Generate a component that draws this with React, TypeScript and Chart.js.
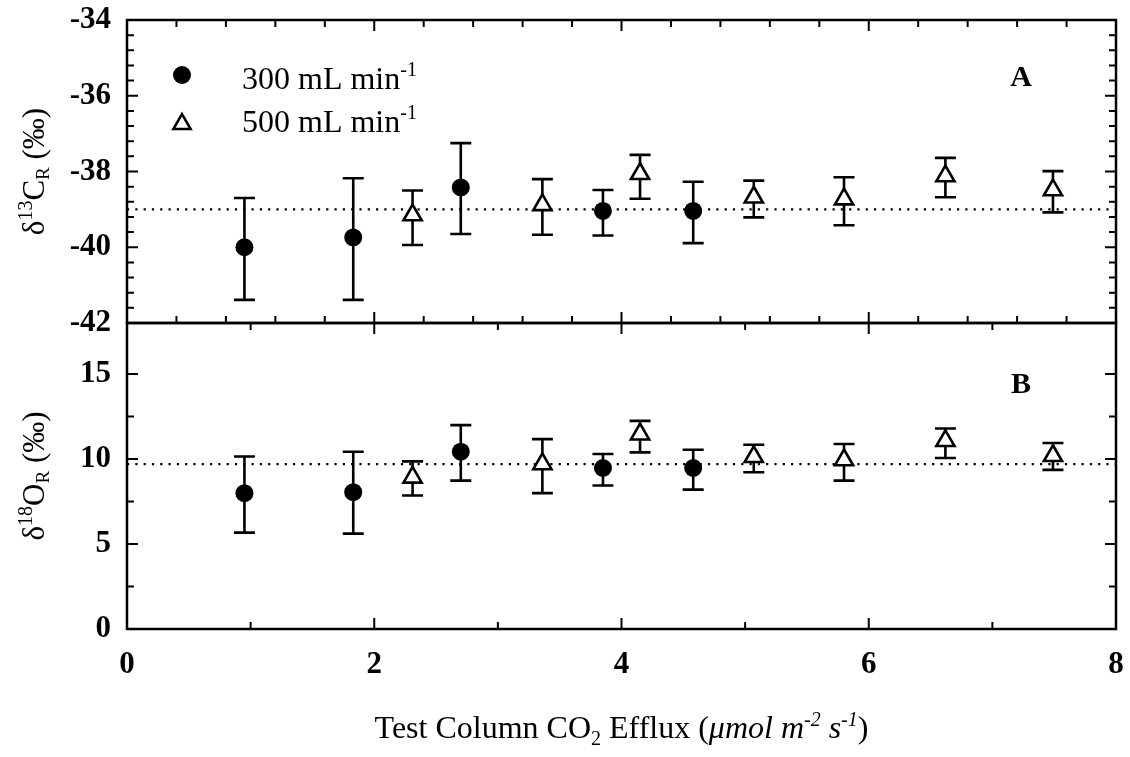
import React, { useEffect, useRef } from 'react';
import { Chart, registerables } from 'chart.js';

Chart.register(...registerables);

const FONT = '"Liberation Serif", "Times New Roman", Times, serif';

// ---------- data ----------
const efflux300 = [0.95, 1.83, 2.7, 3.85, 4.58];
const efflux500 = [2.31, 3.36, 4.15, 5.07, 5.8, 6.62, 7.49];

// Panel A: d13C_R
const d13C300 = [-40.0, -39.74, -38.42, -39.04, -39.04];
const d13C300Hi = [-38.7, -38.18, -37.25, -38.49, -38.27];
const d13C300Lo = [-41.39, -41.39, -39.65, -39.69, -39.89];
const d13C500 = [-39.15, -38.88, -38.06, -38.68, -38.73, -38.12, -38.49];
const d13C500Hi = [-38.5, -38.2, -37.56, -38.24, -38.15, -37.64, -37.99];
const d13C500Lo = [-39.94, -39.67, -38.72, -39.21, -39.42, -38.68, -39.08];
const d13CMean = -39.0;

// Panel B: d18O_R
const d18O300 = [7.99, 8.05, 10.43, 9.47, 9.47];
const d18O300Hi = [10.15, 10.43, 11.99, 10.29, 10.54];
const d18O300Lo = [5.67, 5.61, 8.73, 8.44, 8.2];
const d18O500 = [8.92, 9.71, 11.46, 10.13, 9.94, 11.07, 10.19];
const d18O500Hi = [9.86, 11.17, 12.24, 10.84, 10.88, 11.79, 10.94];
const d18O500Lo = [7.85, 7.99, 10.39, 9.22, 8.73, 10.06, 9.36];
const d18OMean = 9.7;

const xTicks = [0, 2, 4, 6, 8];
const yTicksA = [-42, -40, -38, -36, -34];
const yTicksB = [0, 5, 10, 15];
const xRange = [0, 8];
const yRangeA = [-42, -34];
const yRangeB = [0, 18];

const legendLabels = ['300 mL min', '500 mL min'];

// ---------- helpers ----------
type Seg = { t: string; size?: number; dy?: number; italic?: boolean; bold?: boolean };
function segFont(s: Seg, base: number) {
  return `${s.italic ? 'italic ' : ''}${s.bold ? 'bold ' : ''}${s.size ?? base}px ${FONT}`;
}
function richWidth(ctx: CanvasRenderingContext2D, segs: Seg[], base: number) {
  let w = 0;
  for (const s of segs) {
    ctx.font = segFont(s, base);
    w += ctx.measureText(s.t).width;
  }
  return w;
}
function drawRich(
  ctx: CanvasRenderingContext2D,
  segs: Seg[],
  x: number,
  y: number,
  base: number,
  align: 'left' | 'center'
) {
  let cx = align === 'center' ? x - richWidth(ctx, segs, base) / 2 : x;
  ctx.textAlign = 'left';
  ctx.textBaseline = 'alphabetic';
  ctx.fillStyle = '#000';
  for (const s of segs) {
    ctx.font = segFont(s, base);
    ctx.fillText(s.t, cx, y + (s.dy || 0));
    cx += ctx.measureText(s.t).width;
  }
}
function drawTriangle(ctx: CanvasRenderingContext2D, x: number, y: number, r: number) {
  const a = (2 * Math.PI) / 3;
  ctx.beginPath();
  ctx.moveTo(x, y - r);
  ctx.lineTo(x + Math.sin(a) * r, y - Math.cos(a) * r);
  ctx.lineTo(x + Math.sin(2 * a) * r, y - Math.cos(2 * a) * r);
  ctx.closePath();
  ctx.fillStyle = '#fff';
  ctx.fill();
  ctx.lineWidth = 2.5;
  ctx.strokeStyle = '#000';
  ctx.stroke();
}

const panels = [
  { id: 'yA', xMinor: 0.4, xMajorEvery: 5, yMinor: 0.4, yMajorEvery: 5 },
  { id: 'yB', xMinor: 1, xMajorEvery: 2, yMinor: 2.5, yMajorEvery: 2 },
];

const errorBarPlugin = {
  id: 'errorBars',
  beforeDatasetsDraw(chart: any) {
    const ctx: CanvasRenderingContext2D = chart.ctx;
    chart.data.datasets.forEach((ds: any, i: number) => {
      if (!ds.errHi) return;
      const meta = chart.getDatasetMeta(i);
      const ys = chart.scales[ds.yAxisID];
      ctx.save();
      ctx.strokeStyle = '#000';
      ctx.lineWidth = 2.6;
      meta.data.forEach((pt: any, j: number) => {
        const yh = ys.getPixelForValue(ds.errHi[j]);
        const yl = ys.getPixelForValue(ds.errLo[j]);
        const x = pt.x;
        ctx.beginPath();
        ctx.moveTo(x, yh);
        ctx.lineTo(x, yl);
        ctx.moveTo(x - 10.5, yh);
        ctx.lineTo(x + 10.5, yh);
        ctx.moveTo(x - 10.5, yl);
        ctx.lineTo(x + 10.5, yl);
        ctx.stroke();
      });
      ctx.restore();
    });
  },
};

const framePlugin = {
  id: 'frame',
  afterDatasetsDraw(chart: any) {
    const ctx: CanvasRenderingContext2D = chart.ctx;
    const xs = chart.scales.x;
    const left = chart.chartArea.left;
    const right = chart.chartArea.right;
    ctx.save();
    ctx.strokeStyle = '#000';
    for (const p of panels) {
      const ys = chart.scales[p.id];
      const top = ys.top;
      const bottom = ys.bottom;
      ctx.lineWidth = 2.5;
      ctx.strokeRect(left, top, right - left, bottom - top);
      ctx.lineWidth = 2;
      ctx.beginPath();
      const nx = Math.round((xs.max - xs.min) / p.xMinor);
      for (let i = 1; i < nx; i++) {
        const px = xs.getPixelForValue(xs.min + i * p.xMinor);
        const len = i % p.xMajorEvery === 0 ? 11 : 7;
        ctx.moveTo(px, bottom);
        ctx.lineTo(px, bottom - len);
        ctx.moveTo(px, top);
        ctx.lineTo(px, top + len);
      }
      const ny = Math.round((ys.max - ys.min) / p.yMinor);
      for (let i = 1; i < ny; i++) {
        const py = ys.getPixelForValue(ys.min + i * p.yMinor);
        const len = i % p.yMajorEvery === 0 ? 11 : 7;
        ctx.moveTo(left, py);
        ctx.lineTo(left + len, py);
        ctx.moveTo(right, py);
        ctx.lineTo(right - len, py);
      }
      ctx.stroke();
    }
    ctx.restore();
  },
};

const textPlugin = {
  id: 'texts',
  afterDraw(chart: any) {
    const ctx: CanvasRenderingContext2D = chart.ctx;
    const area = chart.chartArea;
    const yA = chart.scales.yA;
    const yB = chart.scales.yB;
    ctx.save();
    // Legend
    const lx = area.left + 55;
    ctx.beginPath();
    ctx.arc(lx, yA.top + 55, 9, 0, Math.PI * 2);
    ctx.fillStyle = '#000';
    ctx.fill();
    drawTriangle(ctx, lx, yA.top + 104, 10);
    drawRich(ctx, [{ t: legendLabels[0] }, { t: '-1', size: 20, dy: -13 }], area.left + 115, yA.top + 69, 32, 'left');
    drawRich(ctx, [{ t: legendLabels[1] }, { t: '-1', size: 20, dy: -13 }], area.left + 115, yA.top + 112, 32, 'left');

    // Panel labels
    ctx.font = `bold 30px ${FONT}`;
    ctx.textAlign = 'center';
    ctx.textBaseline = 'middle';
    ctx.fillStyle = '#000';
    ctx.fillText('A', area.right - 95, yA.top + 58);
    ctx.fillText('B', area.right - 95, yB.top + 62);

    // Y titles
    const yTitle = (segs: Seg[], cy: number) => {
      ctx.save();
      ctx.translate(33, cy);
      ctx.rotate(-Math.PI / 2);
      drawRich(ctx, segs, 0, 11, 31, 'center');
      ctx.restore();
    };
    yTitle(
      [{ t: 'δ' }, { t: '13', size: 20, dy: -12 }, { t: 'C' }, { t: 'R', size: 19, dy: 5 }, { t: ' (‰)' }],
      (yA.top + yA.bottom) / 2
    );
    yTitle(
      [{ t: 'δ' }, { t: '18', size: 20, dy: -12 }, { t: 'O' }, { t: 'R', size: 19, dy: 5 }, { t: ' (‰)' }],
      (yB.top + yB.bottom) / 2
    );

    // X title
    drawRich(
      ctx,
      [
        { t: 'Test Column CO' },
        { t: '2', size: 20, dy: 7 },
        { t: ' Efflux (' },
        { t: 'μmol m', italic: true },
        { t: '-2', size: 20, dy: -12, italic: true },
        { t: ' s', italic: true },
        { t: '-1', size: 20, dy: -12, italic: true },
        { t: ')' },
      ],
      (area.left + area.right) / 2,
      738,
      32,
      'center'
    );
    ctx.restore();
  },
};

const tickFont = { family: FONT, size: 31, weight: 'bold' as const };

const zeroPad = (s: any) => {
  s.paddingTop = 0;
  s.paddingBottom = 0;
  s.paddingLeft = 0;
  s.paddingRight = 0;
};

export default function App() {
  const ref = useRef<HTMLCanvasElement>(null);
  useEffect(() => {
    const pts = (xs: number[], ys: number[]) => xs.map((x, i) => ({ x, y: ys[i] }));
    const chart = new Chart(ref.current as HTMLCanvasElement, {
      type: 'scatter',
      data: {
        datasets: [
          {
            label: '300 mL min-1 (A)',
            data: pts(efflux300, d13C300),
            yAxisID: 'yA',
            pointStyle: 'circle',
            pointRadius: 9,
            backgroundColor: '#000',
            borderColor: '#000',
            borderWidth: 0,
            errHi: d13C300Hi,
            errLo: d13C300Lo,
          } as any,
          {
            label: '500 mL min-1 (A)',
            data: pts(efflux500, d13C500),
            yAxisID: 'yA',
            pointStyle: 'triangle',
            pointRadius: 10.5,
            backgroundColor: '#fff',
            borderColor: '#000',
            borderWidth: 2.6,
            errHi: d13C500Hi,
            errLo: d13C500Lo,
          } as any,
          {
            label: '300 mL min-1 (B)',
            data: pts(efflux300, d18O300),
            yAxisID: 'yB',
            pointStyle: 'circle',
            pointRadius: 9,
            backgroundColor: '#000',
            borderColor: '#000',
            borderWidth: 0,
            errHi: d18O300Hi,
            errLo: d18O300Lo,
          } as any,
          {
            label: '500 mL min-1 (B)',
            data: pts(efflux500, d18O500),
            yAxisID: 'yB',
            pointStyle: 'triangle',
            pointRadius: 10.5,
            backgroundColor: '#fff',
            borderColor: '#000',
            borderWidth: 2.6,
            errHi: d18O500Hi,
            errLo: d18O500Lo,
          } as any,
          {
            type: 'line',
            label: 'mean A',
            data: [
              { x: xRange[0], y: d13CMean },
              { x: xRange[1], y: d13CMean },
            ],
            yAxisID: 'yA',
            borderColor: '#000',
            borderWidth: 2.2,
            borderDash: [2.2, 6.1],
            pointRadius: 0,
          } as any,
          {
            type: 'line',
            label: 'mean B',
            data: [
              { x: xRange[0], y: d18OMean },
              { x: xRange[1], y: d18OMean },
            ],
            yAxisID: 'yB',
            borderColor: '#000',
            borderWidth: 2.2,
            borderDash: [2.2, 6.1],
            pointRadius: 0,
          } as any,
        ],
      },
      options: {
        animation: false,
        responsive: true,
        maintainAspectRatio: false,
        layout: { padding: { top: 20, right: 14, left: 0, bottom: 0 } },
        plugins: { legend: { display: false }, tooltip: { enabled: false } },
        scales: {
          x: {
            type: 'linear',
            position: 'bottom',
            min: xRange[0],
            max: xRange[1],
            grid: { display: false, drawTicks: false },
            border: { display: false },
            ticks: {
              color: '#000',
              font: tickFont,
              padding: 17,
              maxRotation: 0,
              autoSkip: false,
              callback: (v: any) => String(v),
            },
            afterBuildTicks: (s: any) => {
              s.ticks = xTicks.map((v) => ({ value: v }));
            },
            afterFit: (s: any) => {
              s.height = 128;
              zeroPad(s);
            },
          },
          yA: {
            type: 'linear',
            position: 'left',
            stack: 'panels',
            stackWeight: 303,
            weight: 2,
            min: yRangeA[0],
            max: yRangeA[1],
            grid: { display: false, drawTicks: false },
            border: { display: false },
            ticks: {
              color: '#000',
              font: tickFont,
              padding: 16,
              autoSkip: false,
              callback: (v: any) => String(v),
            },
            afterBuildTicks: (s: any) => {
              s.ticks = yTicksA.map((v) => ({ value: v }));
            },
            afterFit: (s: any) => {
              s.width = 127;
              zeroPad(s);
            },
          },
          yB: {
            type: 'linear',
            position: 'left',
            stack: 'panels',
            stackWeight: 306,
            weight: 1,
            min: yRangeB[0],
            max: yRangeB[1],
            grid: { display: false, drawTicks: false },
            border: { display: false },
            ticks: {
              color: '#000',
              font: tickFont,
              padding: 16,
              autoSkip: false,
              callback: (v: any) => String(v),
            },
            afterBuildTicks: (s: any) => {
              s.ticks = yTicksB.map((v) => ({ value: v }));
            },
            afterFit: (s: any) => {
              s.width = 127;
              zeroPad(s);
            },
          },
        } as any,
      },
      plugins: [errorBarPlugin, framePlugin, textPlugin],
    });
    return () => chart.destroy();
  }, []);
  return (
    <div style={{ position: 'absolute', left: 0, top: 0, width: 1130, height: 757, background: '#fff' }}>
      <canvas ref={ref} />
    </div>
  );
}
